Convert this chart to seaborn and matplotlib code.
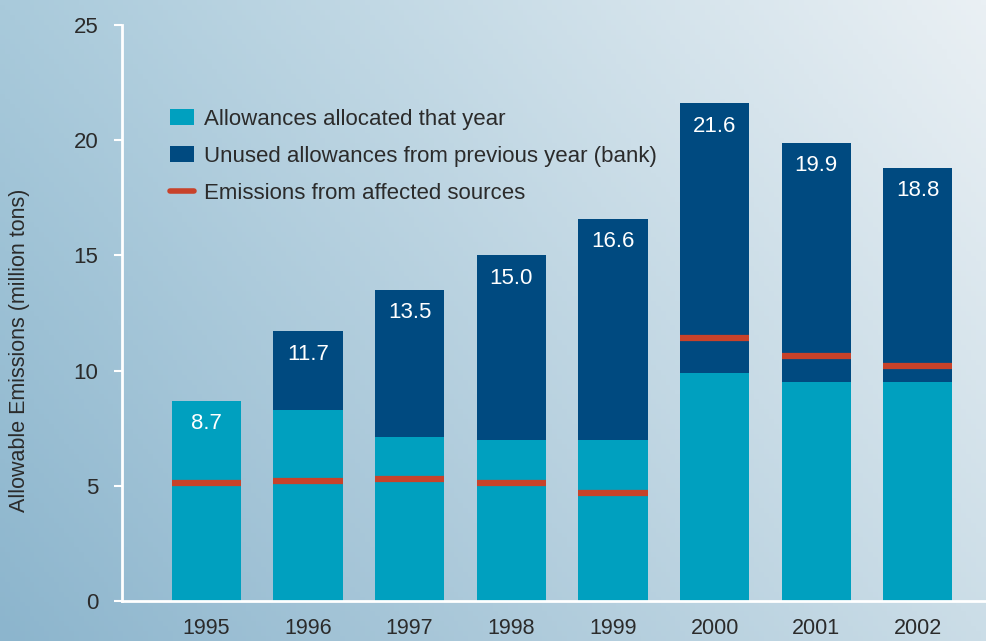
import numpy as np
import pandas as pd
import matplotlib
matplotlib.use("Agg")
import matplotlib.pyplot as plt
from matplotlib.patches import Patch
from matplotlib.lines import Line2D
import seaborn as sns

# ---- data ----
years = ["1995", "1996", "1997", "1998", "1999", "2000", "2001", "2002"]
total_allowances = [8.7, 11.7, 13.5, 15.0, 16.6, 21.6, 19.9, 18.8]
allocated = [8.7, 8.3, 7.1, 7.0, 7.0, 9.9, 9.5, 9.5]
emissions = [5.1, 5.2, 5.3, 5.1, 4.7, 11.4, 10.65, 10.2]
yticks = [0, 5, 10, 15, 20, 25]
legend_labels = ["Allowances allocated that year",
                 "Unused allowances from previous year (bank)",
                 "Emissions from affected sources"]

TEAL = "#00a0bf"
NAVY = "#004a80"
RED = "#c8422a"
TXT = "#2b2b2b"
FS = 16

df = pd.DataFrame({"year": years, "total": total_allowances,
                   "allocated": allocated, "emissions": emissions})

sns.set_theme(style="white")
plt.rcParams["font.family"] = ["Liberation Sans", "DejaVu Sans"]

fig = plt.figure(figsize=(9.86, 6.41), dpi=100)

# background gradient
bg = fig.add_axes([0, 0, 1, 1], zorder=0)
bg.set_axis_off()
nx, ny = 200, 130
xx, yy = np.meshgrid(np.linspace(0, 1, nx), np.linspace(0, 1, ny))
tl = np.array([0xa9, 0xca, 0xdb]) / 255
tr = np.array([0xea, 0xf0, 0xf4]) / 255
bl = np.array([0x8c, 0xb5, 0xcd]) / 255
br = np.array([0xcb, 0xdd, 0xe7]) / 255
img = ((1 - xx)[..., None] * (1 - yy)[..., None] * tl + xx[..., None] * (1 - yy)[..., None] * tr
       + (1 - xx)[..., None] * yy[..., None] * bl + xx[..., None] * yy[..., None] * br)
bg.imshow(img, aspect="auto", extent=[0, 1, 0, 1], origin="upper")

ax = fig.add_axes([122 / 986, 40 / 641, 864 / 986, 576 / 641], zorder=1)
ax.patch.set_alpha(0)

W = 0.68
sns.barplot(data=df, x="year", y="total", color=NAVY, width=W, saturation=1,
            ax=ax, edgecolor="none", linewidth=0)
sns.barplot(data=df, x="year", y="allocated", color=TEAL, width=W, saturation=1,
            ax=ax, edgecolor="none", linewidth=0)

xpos = np.arange(len(years))
ax.hlines(df["emissions"], xpos - W / 2, xpos + W / 2, colors=RED, linewidth=4.5, zorder=5)

for i, v in enumerate(total_allowances):
    ax.text(i, v - 1.0, f"{v:.1f}", ha="center", va="center", color="white", fontsize=FS, zorder=6)

ax.set_xlim(-0.83, 7.67)
ax.set_ylim(0, 25)
ax.set_yticks(yticks)
ax.set_yticklabels([str(t) for t in yticks])
ax.set_xlabel("")
ax.set_ylabel("Allowable Emissions (million tons)", fontsize=15.5, color=TXT)
ax.yaxis.set_label_coords(-0.107, 0.436)

for s in ["top", "right"]:
    ax.spines[s].set_visible(False)
for s in ["left", "bottom"]:
    ax.spines[s].set_visible(True)
    ax.spines[s].set_color("white")
    ax.spines[s].set_linewidth(2)

ax.tick_params(axis="y", left=True, length=6, width=1.5, color="white", direction="out",
               pad=11, labelsize=FS, labelcolor=TXT)
ax.tick_params(axis="x", bottom=False, pad=6.5, labelsize=15.5, labelcolor=TXT)
ax.grid(False)

handles = [Patch(facecolor=TEAL, edgecolor="none"),
           Patch(facecolor=NAVY, edgecolor="none"),
           Line2D([0], [0], color=RED, linewidth=4)]
leg = ax.legend(handles, legend_labels, loc="upper left",
                bbox_to_anchor=(170 / 986, 1 - 109 / 641), bbox_transform=fig.transFigure,
                frameon=False, fontsize=FS, borderpad=0, borderaxespad=0,
                handlelength=1.08, handleheight=0.72, handletextpad=0.45, labelspacing=0.72)
for t in leg.get_texts():
    t.set_color(TXT)

fig.savefig("out.png", dpi=100)
